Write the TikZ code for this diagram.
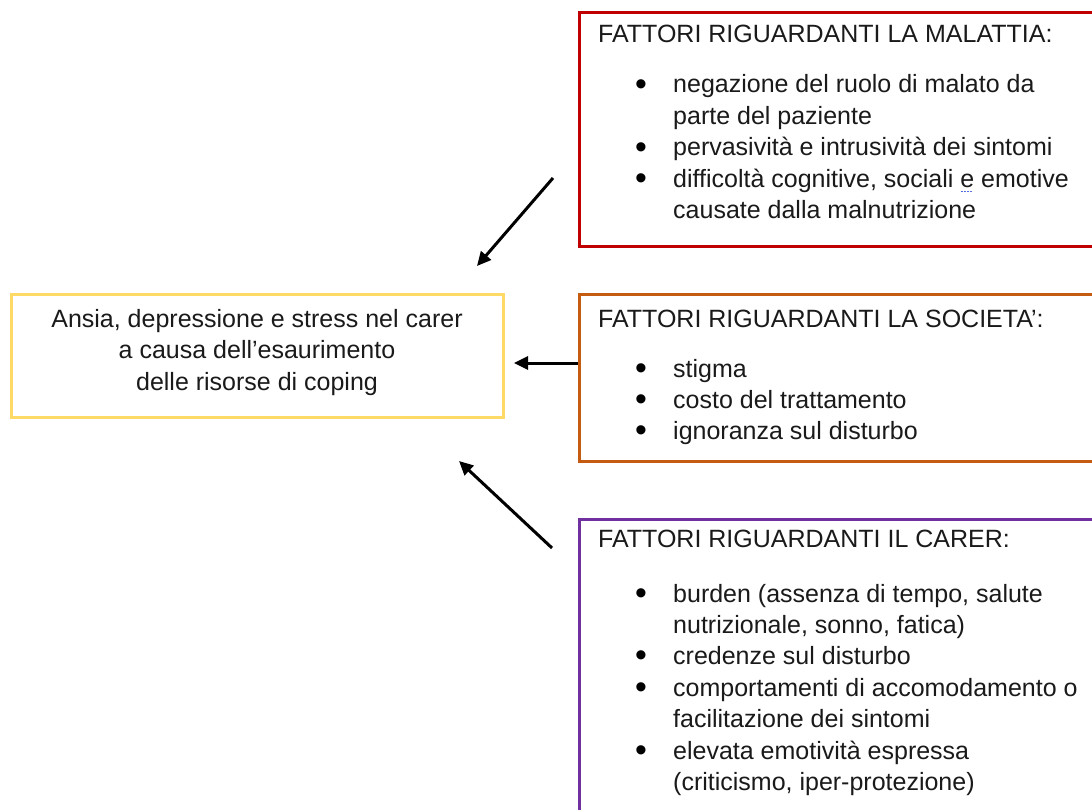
\documentclass[tikz,border=0pt]{standalone}
\usepackage{fontspec}
\usepackage{graphicx}
\setmainfont{Liberation Sans}
\usetikzlibrary{arrows.meta}

\definecolor{malred}{HTML}{C00000}
\definecolor{socorange}{HTML}{C55A11}
\definecolor{carpurple}{HTML}{7030A0}
\definecolor{effyellow}{HTML}{FFD966}
\definecolor{inkgray}{HTML}{1A1A1A}
\definecolor{spellblue}{HTML}{5470E0}

% dotted blue proofing mark under a word
\newcommand{\spellmark}[1]{%
  \setbox0\hbox{#1}%
  \rlap{\raisebox{-5pt}{\color{spellblue}\hbox to\wd0{\leaders\hbox to 3pt{\hss\rule{1.3pt}{1.3pt}\hss}\hfill}}}#1}
% enlarged list bullet
\newcommand{\bigbullet}{\raisebox{-2.2pt}{\scalebox{1.35}{•}}}

\begin{document}
\begin{tikzpicture}[x=1pt,y=-1pt,
  boxframe/.style={draw=#1, line width=3pt, inner sep=0pt, fill=none},
  txt/.style={anchor=base west, inner sep=0pt, text=inkgray,
    font=\fontsize{25}{31}\selectfont},
  ctxt/.style={txt, anchor=base},
  bul/.style={anchor=base, inner sep=0pt, text=black,
    font=\fontsize{25}{31}\selectfont},
  link/.style={draw=black, line width=3pt,
    -{Triangle[length=14pt,width=13pt]}}]

\clip (0,0) rectangle (1092,810);
\fill[white] (0,0) rectangle (1092,810);

% frames
\node[boxframe=malred, minimum width=524pt, minimum height=234pt] (mal) at (841,130) {};
\node[boxframe=socorange, minimum width=524pt, minimum height=166pt] (soc) at (841,378) {};
\node[boxframe=carpurple, minimum width=524pt, minimum height=320pt] (car) at (841,679) {};
\node[boxframe=effyellow, minimum width=492pt, minimum height=122pt] (eff) at (257,356) {};

% central effect
\node[ctxt] (eff1) at (257,327) {Ansia, depressione e stress nel carer};
\node[ctxt] (eff2) at (257,358.5) {a causa dell’esaurimento};
\node[ctxt] (eff3) at (257,390) {delle risorse di coping};

% illness factors
\node[txt] (malt) at (598,43) {FATTORI RIGUARDANTI LA MALATTIA:};
\node[bul] (malb1) at (641,93) {\bigbullet};
\node[txt] (mal1a) at (673,93) {negazione del ruolo di malato da};
\node[txt] (mal1b) at (673,124.5) {parte del paziente};
\node[bul] (malb2) at (641,156) {\bigbullet};
\node[txt] (mal2) at (673,156) {pervasività e intrusività dei sintomi};
\node[bul] (malb3) at (641,187.5) {\bigbullet};
\node[txt] (mal3a) at (673,187.5) {difficoltà cognitive, sociali \spellmark{e} emotive};
\node[txt] (mal3b) at (673,219) {causate dalla malnutrizione};

% society factors
\node[txt] (soct) at (598,327) {FATTORI RIGUARDANTI LA SOCIETA’:};
\node[bul] (socb1) at (641,377) {\bigbullet};
\node[txt] (soc1) at (673,377) {stigma};
\node[bul] (socb2) at (641,408) {\bigbullet};
\node[txt] (soc2) at (673,408) {costo del trattamento};
\node[bul] (socb3) at (641,439) {\bigbullet};
\node[txt] (soc3) at (673,439) {ignoranza sul disturbo};

% carer factors
\node[txt] (cart) at (598,547) {FATTORI RIGUARDANTI IL CARER:};
\node[bul] (carb1) at (641,602) {\bigbullet};
\node[txt] (car1a) at (673,602) {burden (assenza di tempo, salute};
\node[txt] (car1b) at (673,633) {nutrizionale, sonno, fatica)};
\node[bul] (carb2) at (641,664.5) {\bigbullet};
\node[txt] (car2) at (673,664.5) {credenze sul disturbo};
\node[bul] (carb3) at (641,696) {\bigbullet};
\node[txt] (car3a) at (673,696) {comportamenti di accomodamento o};
\node[txt] (car3b) at (673,727.5) {facilitazione dei sintomi};
\node[bul] (carb4) at (641,759) {\bigbullet};
\node[txt] (car4a) at (673,759) {elevata emotività espressa};
\node[txt] (car4b) at (673,790) {(criticismo, iper-protezione)};

% arrow ends
\coordinate (a1s) at (553,178);
\coordinate (a1e) at (477,266);
\coordinate (a2s) at (mal.west |- 0,363);
\coordinate (a2e) at (514,363);
\coordinate (a3s) at (552,548);
\coordinate (a3e) at (459,461);

\draw[link] (a1s) -- (a1e);
\draw[link] (a2s) -- (a2e);
\draw[link] (a3s) -- (a3e);
\end{tikzpicture}
\end{document}
